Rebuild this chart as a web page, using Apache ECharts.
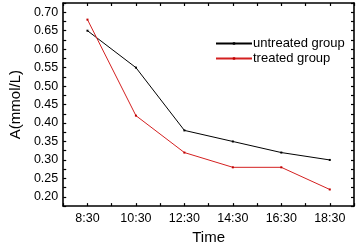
<!DOCTYPE html>
<html>
<head>
<meta charset="utf-8">
<script src="https://cdn.jsdelivr.net/npm/echarts@6/dist/echarts.min.js"></script>
<style>
  html, body { margin: 0; padding: 0; background: #fff; }
  #chart { width: 358px; height: 250px; }
</style>
</head>
<body>
<div id="chart"></div>
<script>
// 数据
var times = ['8:30', '10:30', '12:30', '14:30', '16:30', '18:30'];
var untreated = [0.65, 0.55, 0.38, 0.35, 0.32, 0.30];
var treated = [0.68, 0.42, 0.32, 0.28, 0.28, 0.22];

function toPoints (arr) {
  var out = [];
  for (var i = 0; i < arr.length; i++) {
    out.push([i, arr[i]]);
  }
  return out;
}

var myChart = echarts.init(document.querySelector('#chart'));
var font = 'Arial, "Liberation Sans", sans-serif';

var tickStyle = { inside: true, length: 3, lineStyle: { color: '#000', width: 1.2 } };
var lineStyle = { color: '#000', width: 1.6 };

option = {
  animation: false,
  grid: { left: 47, right: 4, top: 3, bottom: 33 },
  legend: {
    orient: 'vertical',
    left: 210,
    top: 32,
    itemWidth: 36,
    itemHeight: 3,
    itemGap: 2,
    textStyle: { fontFamily: font, fontSize: 13, color: '#000', padding: [0, 0, 0, -4] },
    data: ['untreated group', 'treated group']
  },
  xAxis: [{
    type: 'value',
    min: -0.5,
    max: 5.5,
    interval: 0.5,
    name: 'Time',
    nameLocation: 'middle',
    nameGap: 19,
    nameTextStyle: { fontFamily: font, fontSize: 15, color: '#000' },
    axisLine: { onZero: false, lineStyle: lineStyle },
    axisTick: tickStyle,
    splitLine: { show: false },
    axisLabel: {
      fontFamily: font, fontSize: 12.5, color: '#000', margin: 6,
      formatter: function (v) {
        return Number.isInteger(v) ? times[v] : '';
      }
    }
  }, {
    type: 'value',
    position: 'top',
    min: -0.5,
    max: 5.5,
    interval: 0.5,
    axisLine: { onZero: false, lineStyle: lineStyle },
    axisTick: tickStyle,
    splitLine: { show: false },
    axisLabel: { show: false }
  }],
  yAxis: [{
    type: 'value',
    min: 0.175,
    max: 0.725,
    interval: 0.025,
    name: 'A(mmol/L)',
    nameLocation: 'middle',
    nameGap: 37,
    nameTextStyle: { fontFamily: font, fontSize: 15, color: '#000' },
    axisLine: { show: true, onZero: false, lineStyle: lineStyle },
    axisTick: tickStyle,
    splitLine: { show: false },
    axisLabel: {
      fontFamily: font, fontSize: 12.5, color: '#000', margin: 5,
      formatter: function (v) {
        return Math.round(v * 1000) % 50 === 0 ? v.toFixed(2) : '';
      }
    }
  }, {
    type: 'value',
    position: 'right',
    min: 0.175,
    max: 0.725,
    interval: 0.025,
    axisLine: { show: true, onZero: false, lineStyle: lineStyle },
    axisTick: tickStyle,
    splitLine: { show: false },
    axisLabel: { show: false }
  }],
  series: [{
    name: 'untreated group',
    type: 'line',
    data: toPoints(untreated),
    symbol: 'rect',
    symbolSize: 2,
    itemStyle: { color: '#000' },
    lineStyle: { color: '#000', width: 1 }
  }, {
    name: 'treated group',
    type: 'line',
    data: toPoints(treated),
    symbol: 'rect',
    symbolSize: 2,
    itemStyle: { color: '#c00000' },
    lineStyle: { color: '#d42020', width: 1 }
  }]
};

myChart.setOption(option);
window.addEventListener('resize', function () {
  myChart.resize();
});
</script>
</body>
</html>
